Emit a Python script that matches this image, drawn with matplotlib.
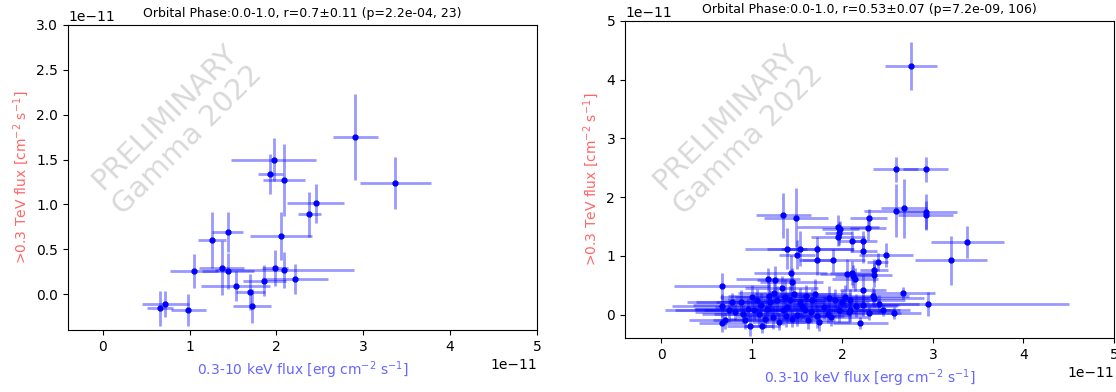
import numpy as np
import matplotlib
matplotlib.use("Agg")
import matplotlib.pyplot as plt

# left panel: 23 observations (units of 1e-11)
xl = [0.66, 0.72, 0.985, 1.05, 1.26, 1.44, 1.37, 1.44, 1.53, 1.70, 1.72, 1.86,
      1.98, 2.09, 2.21, 2.05, 2.38, 2.45, 3.37, 2.91, 1.97, 1.93, 2.09]
yl = [-0.16, -0.11, -0.18, 0.26, 0.60, 0.69, 0.29, 0.26, 0.09, 0.02, -0.13, 0.15,
      0.29, 0.27, 0.17, 0.65, 0.89, 1.01, 1.24, 1.75, 1.50, 1.34, 1.27]
xl_err = [0.15, 0.27, 0.20, 0.28, 0.16, 0.18, 0.26, 0.30, 0.40, 0.17, 0.22, 0.25,
          0.15, 0.80, 0.38, 0.36, 0.13, 0.33, 0.41, 0.26, 0.49, 0.14, 0.24]
yl_err = [0.19, 0.15, 0.18, 0.19, 0.31, 0.22, 0.30, 0.20, 0.17, 0.20, 0.19, 0.17,
          0.20, 0.20, 0.17, 0.27, 0.25, 0.22, 0.29, 0.48, 0.24, 0.22, 0.40]

# right panel: 106 observations (units of 1e-11)
xr = [2.76, 2.59, 2.92, 2.68, 2.59, 2.92, 2.92, 1.35, 1.49, 2.29,
      1.95, 1.96, 1.95, 2.28, 2.11, 2.23, 2.23, 3.38, 3.20, 1.39,
      1.50, 1.53, 1.72, 1.72, 1.90, 2.48, 2.39, 2.35, 2.35, 1.43,
      2.05, 2.11, 2.14, 2.12, 1.18, 1.26, 0.67, 2.67, 2.23, 2.34,
      2.95, 2.45, 2.57, 2.20, 2.23, 2.08, 2.09, 2.00, 2.07, 2.35,
      2.03, 0.67, 0.71, 0.67, 0.78, 0.88, 0.90, 0.92, 0.98, 0.96,
      1.06, 1.11, 1.08, 1.19, 1.17, 1.24, 1.28, 1.34, 1.37, 1.39,
      1.42, 1.45, 1.50, 1.56, 1.59, 1.66, 1.72, 1.74, 1.80, 1.84,
      1.92, 1.96, 1.25, 1.47, 1.33, 1.60, 1.10, 0.82, 1.02, 1.15,
      1.30, 1.53, 1.65, 1.88, 2.15, 2.30, 0.75, 1.00, 1.38, 1.70,
      1.44, 1.85, 1.20, 1.62, 2.40, 1.98]
yr = [4.23, 2.47, 2.47, 1.81, 1.77, 1.75, 1.69, 1.69, 1.65, 1.64,
      1.49, 1.38, 1.32, 1.47, 1.25, 1.25, 1.08, 1.24, 0.92, 1.12,
      1.02, 1.12, 1.12, 0.93, 0.92, 1.01, 0.89, 0.75, 0.67, 0.71,
      0.69, 0.71, 0.60, 0.65, 0.60, 0.58, 0.48, 0.37, 0.42, 0.31,
      0.18, 0.07, 0.03, -0.14, 0.16, 0.08, 0.24, 0.22, 0.04, 0.28,
      0.30, 0.15, -0.10, -0.15, 0.22, 0.21, 0.01, -0.09, -0.19, 0.10,
      0.24, -0.20, 0.01, 0.31, 0.10, -0.05, 0.24, 0.07, 0.30, 0.12,
      0.24, -0.07, 0.00, 0.14, 0.07, 0.24, -0.03, -0.13, 0.12, 0.01,
      0.24, 0.07, 0.37, 0.35, 0.45, 0.31, 0.17, 0.05, 0.08, -0.08,
      -0.12, 0.20, 0.05, -0.04, 0.15, 0.02, 0.08, 0.30, -0.02, 0.35,
      0.55, 0.28, 0.22, -0.10, 0.18, 1.45]
xr_err = [0.29, 0.25, 0.25, 0.25, 0.35, 0.35, 0.30, 0.30, 0.35, 0.20,
          0.45, 0.15, 0.30, 0.20, 0.15, 0.15, 0.15, 0.40, 0.40, 0.22,
          0.20, 0.60, 0.40, 0.20, 0.35, 0.30, 0.12, 0.15, 0.20, 0.40,
          0.30, 0.25, 0.25, 0.20, 0.35, 0.20, 0.53, 0.35, 0.25, 0.40,
          1.55, 0.30, 0.30, 0.30, 0.40, 0.50, 0.60, 0.30, 0.40, 0.55,
          0.35, 0.55, 0.40, 0.25, 0.50, 0.50, 0.45, 0.35, 0.25, 0.60,
          0.40, 0.20, 0.50, 0.45, 0.80, 0.35, 0.50, 1.30, 0.55, 0.80,
          0.30, 0.30, 0.60, 0.50, 0.45, 0.45, 0.30, 0.35, 0.60, 0.40,
          0.50, 0.35, 0.40, 0.45, 0.40, 0.35, 0.75, 0.45, 0.55, 0.40,
          0.30, 0.70, 0.50, 0.40, 0.45, 0.35, 0.60, 0.35, 0.55, 0.40,
          0.35, 0.45, 0.60, 0.30, 0.45, 0.20]
yr_err = [0.41, 0.22, 0.22, 0.50, 0.45, 0.30, 0.25, 0.38, 0.50, 0.15,
          0.20, 0.20, 0.15, 0.20, 0.18, 0.18, 0.20, 0.27, 0.42, 0.35,
          0.25, 0.30, 0.20, 0.25, 0.20, 0.20, 0.15, 0.20, 0.20, 0.30,
          0.25, 0.20, 0.20, 0.20, 0.20, 0.25, 0.22, 0.10, 0.25, 0.15,
          0.20, 0.10, 0.10, 0.10, 0.18, 0.20, 0.20, 0.20, 0.15, 0.15,
          0.20, 0.20, 0.15, 0.15, 0.15, 0.20, 0.15, 0.15, 0.18, 0.18,
          0.20, 0.12, 0.20, 0.25, 0.25, 0.20, 0.25, 0.25, 0.30, 0.25,
          0.25, 0.15, 0.20, 0.20, 0.15, 0.20, 0.20, 0.15, 0.20, 0.15,
          0.20, 0.20, 0.20, 0.25, 0.20, 0.20, 0.20, 0.15, 0.18, 0.15,
          0.15, 0.25, 0.20, 0.15, 0.20, 0.12, 0.20, 0.20, 0.20, 0.25,
          0.25, 0.20, 0.20, 0.15, 0.15, 0.15]

titles = ["Orbital Phase:0.0-1.0, r=0.7\u00b10.11 (p=2.2e-04, 23)",
          "Orbital Phase:0.0-1.0, r=0.53\u00b10.07 (p=7.2e-09, 106)"]
ytops = [3.0, 5.0]

fig = plt.figure(figsize=(11.16, 3.92), dpi=100)
axes = [fig.add_axes([0.0609, 0.1582, 0.4203, 0.7781]),
        fig.add_axes([0.5600, 0.1378, 0.4382, 0.8087])]

data = [(xl, yl, xl_err, yl_err), (xr, yr, xr_err, yr_err)]
for ax, (x, y, xe, ye), title, ytop in zip(axes, data, titles, ytops):
    x = np.array(x) * 1e-11
    y = np.array(y) * 1e-11
    xe = np.array(xe) * 1e-11
    ye = np.array(ye) * 1e-11
    ax.errorbar(x, y, xerr=xe, yerr=ye, fmt='.', color='blue',
                ecolor=(0, 0, 1, 0.4), elinewidth=2, markersize=7)
    ax.set_xlim(-0.4e-11, 5e-11)
    ax.set_ylim(-0.4e-11, ytop * 1e-11)
    ax.set_title(title, fontsize=9)
    ax.set_xlabel("0.3-10 keV flux [erg cm$^{-2}$ s$^{-1}$]", color='blue', alpha=0.6, fontsize=10)
    ax.set_ylabel(">0.3 TeV flux [cm$^{-2}$ s$^{-1}$]", color='red', alpha=0.6, fontsize=10)
    ax.tick_params(labelsize=10)
    ax.text(0.23, 0.66, "PRELIMINARY\nGamma 2022", transform=ax.transAxes,
            rotation=45, ha='center', va='center', multialignment='center',
            fontsize=21, color='gray', alpha=0.3)

fig.savefig("out.png", dpi=100)
